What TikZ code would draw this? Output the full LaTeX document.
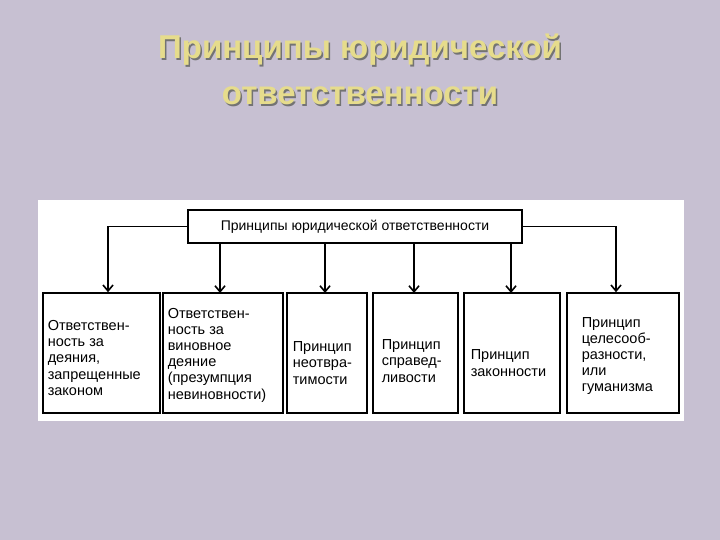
\documentclass[tikz,border=0pt]{standalone}
\usepackage{fontspec}
\setmainfont{Liberation Sans}
\usetikzlibrary{arrows.meta}
\definecolor{bg}{HTML}{C7C0D2}
\definecolor{ttl}{HTML}{E6DC8C}
\begin{document}
\begin{tikzpicture}[x=1pt,y=-1pt,
  bx/.style={draw,line width=1.5pt,inner sep=0pt},
  lb/.style={font=\fontsize{14.5}{16.2}\selectfont,align=left,anchor=west},
  ar/.style={line width=1.6pt,-{Straight Barb[length=6pt,width=10pt]}}]
\fill[bg] (0,0) rectangle (720,540);
\useasboundingbox (0,0) rectangle (720,540);
\foreach \t/\yy in {{Принципы юридической}/50,{ответственности}/96}{
 \node[text=black!55,font=\fontsize{33}{34}\selectfont\bfseries] at (361.5,\yy+1.5) {\t};
 \node[text=ttl,font=\fontsize{33}{34}\selectfont\bfseries] (t\yy) at (360,\yy) {\t};}
\fill[white] (38,200) rectangle (684,421);
\node[bx,minimum width=334pt,minimum height=33pt] (top) at (355,226.5) {};
\node[font=\fontsize{14}{15}\selectfont] at (top) {Принципы юридической ответственности};
\node[bx,minimum width=117pt,minimum height=120pt] (b1) at (101.5,353) {};
\node[bx,minimum width=120pt,minimum height=120pt] (b2) at (223,353) {};
\node[bx,minimum width=80pt,minimum height=120pt] (b3) at (327,353) {};
\node[bx,minimum width=85pt,minimum height=120pt] (b4) at (415.5,353) {};
\node[bx,minimum width=96pt,minimum height=120pt] (b5) at (512,353) {};
\node[bx,minimum width=112pt,minimum height=120pt] (b6) at (623,353) {};
\node[lb] at ([xshift=2pt,yshift=-5pt]b1.west) {Ответствен-\\ность за\\деяния,\\запрещенные\\законом};
\node[lb] at ([xshift=2pt,yshift=-2pt]b2.west) {Ответствен-\\ность за\\виновное\\деяние\\(презумпция\\невиновности)};
\node[lb] at ([xshift=3pt,yshift=-10pt]b3.west) {Принцип\\неотвра-\\тимости};
\node[lb] at ([xshift=6pt,yshift=-8pt]b4.west) {Принцип\\справед-\\ливости};
\node[lb] at ([xshift=4pt,yshift=-10pt]b5.west) {Принцип\\законности};
\node[lb] at ([xshift=12pt,yshift=-3pt]b6.west) {Принцип\\целесооб-\\разности,\\или\\гуманизма};
\coordinate (l1) at (108,226.5); \coordinate (r6) at (616,226.5);
\draw[line width=1.6pt] (top.west) -- (l1);
\draw[line width=1.6pt] (top.east) -- (r6);
\draw[ar] (l1) -- (l1|-b1.north);
\draw[ar] (r6) -- (r6|-b6.north);
\foreach \x in {220,325,414,511}
  \draw[ar] (\x,243) -- (\x,293);
\end{tikzpicture}
\end{document}
